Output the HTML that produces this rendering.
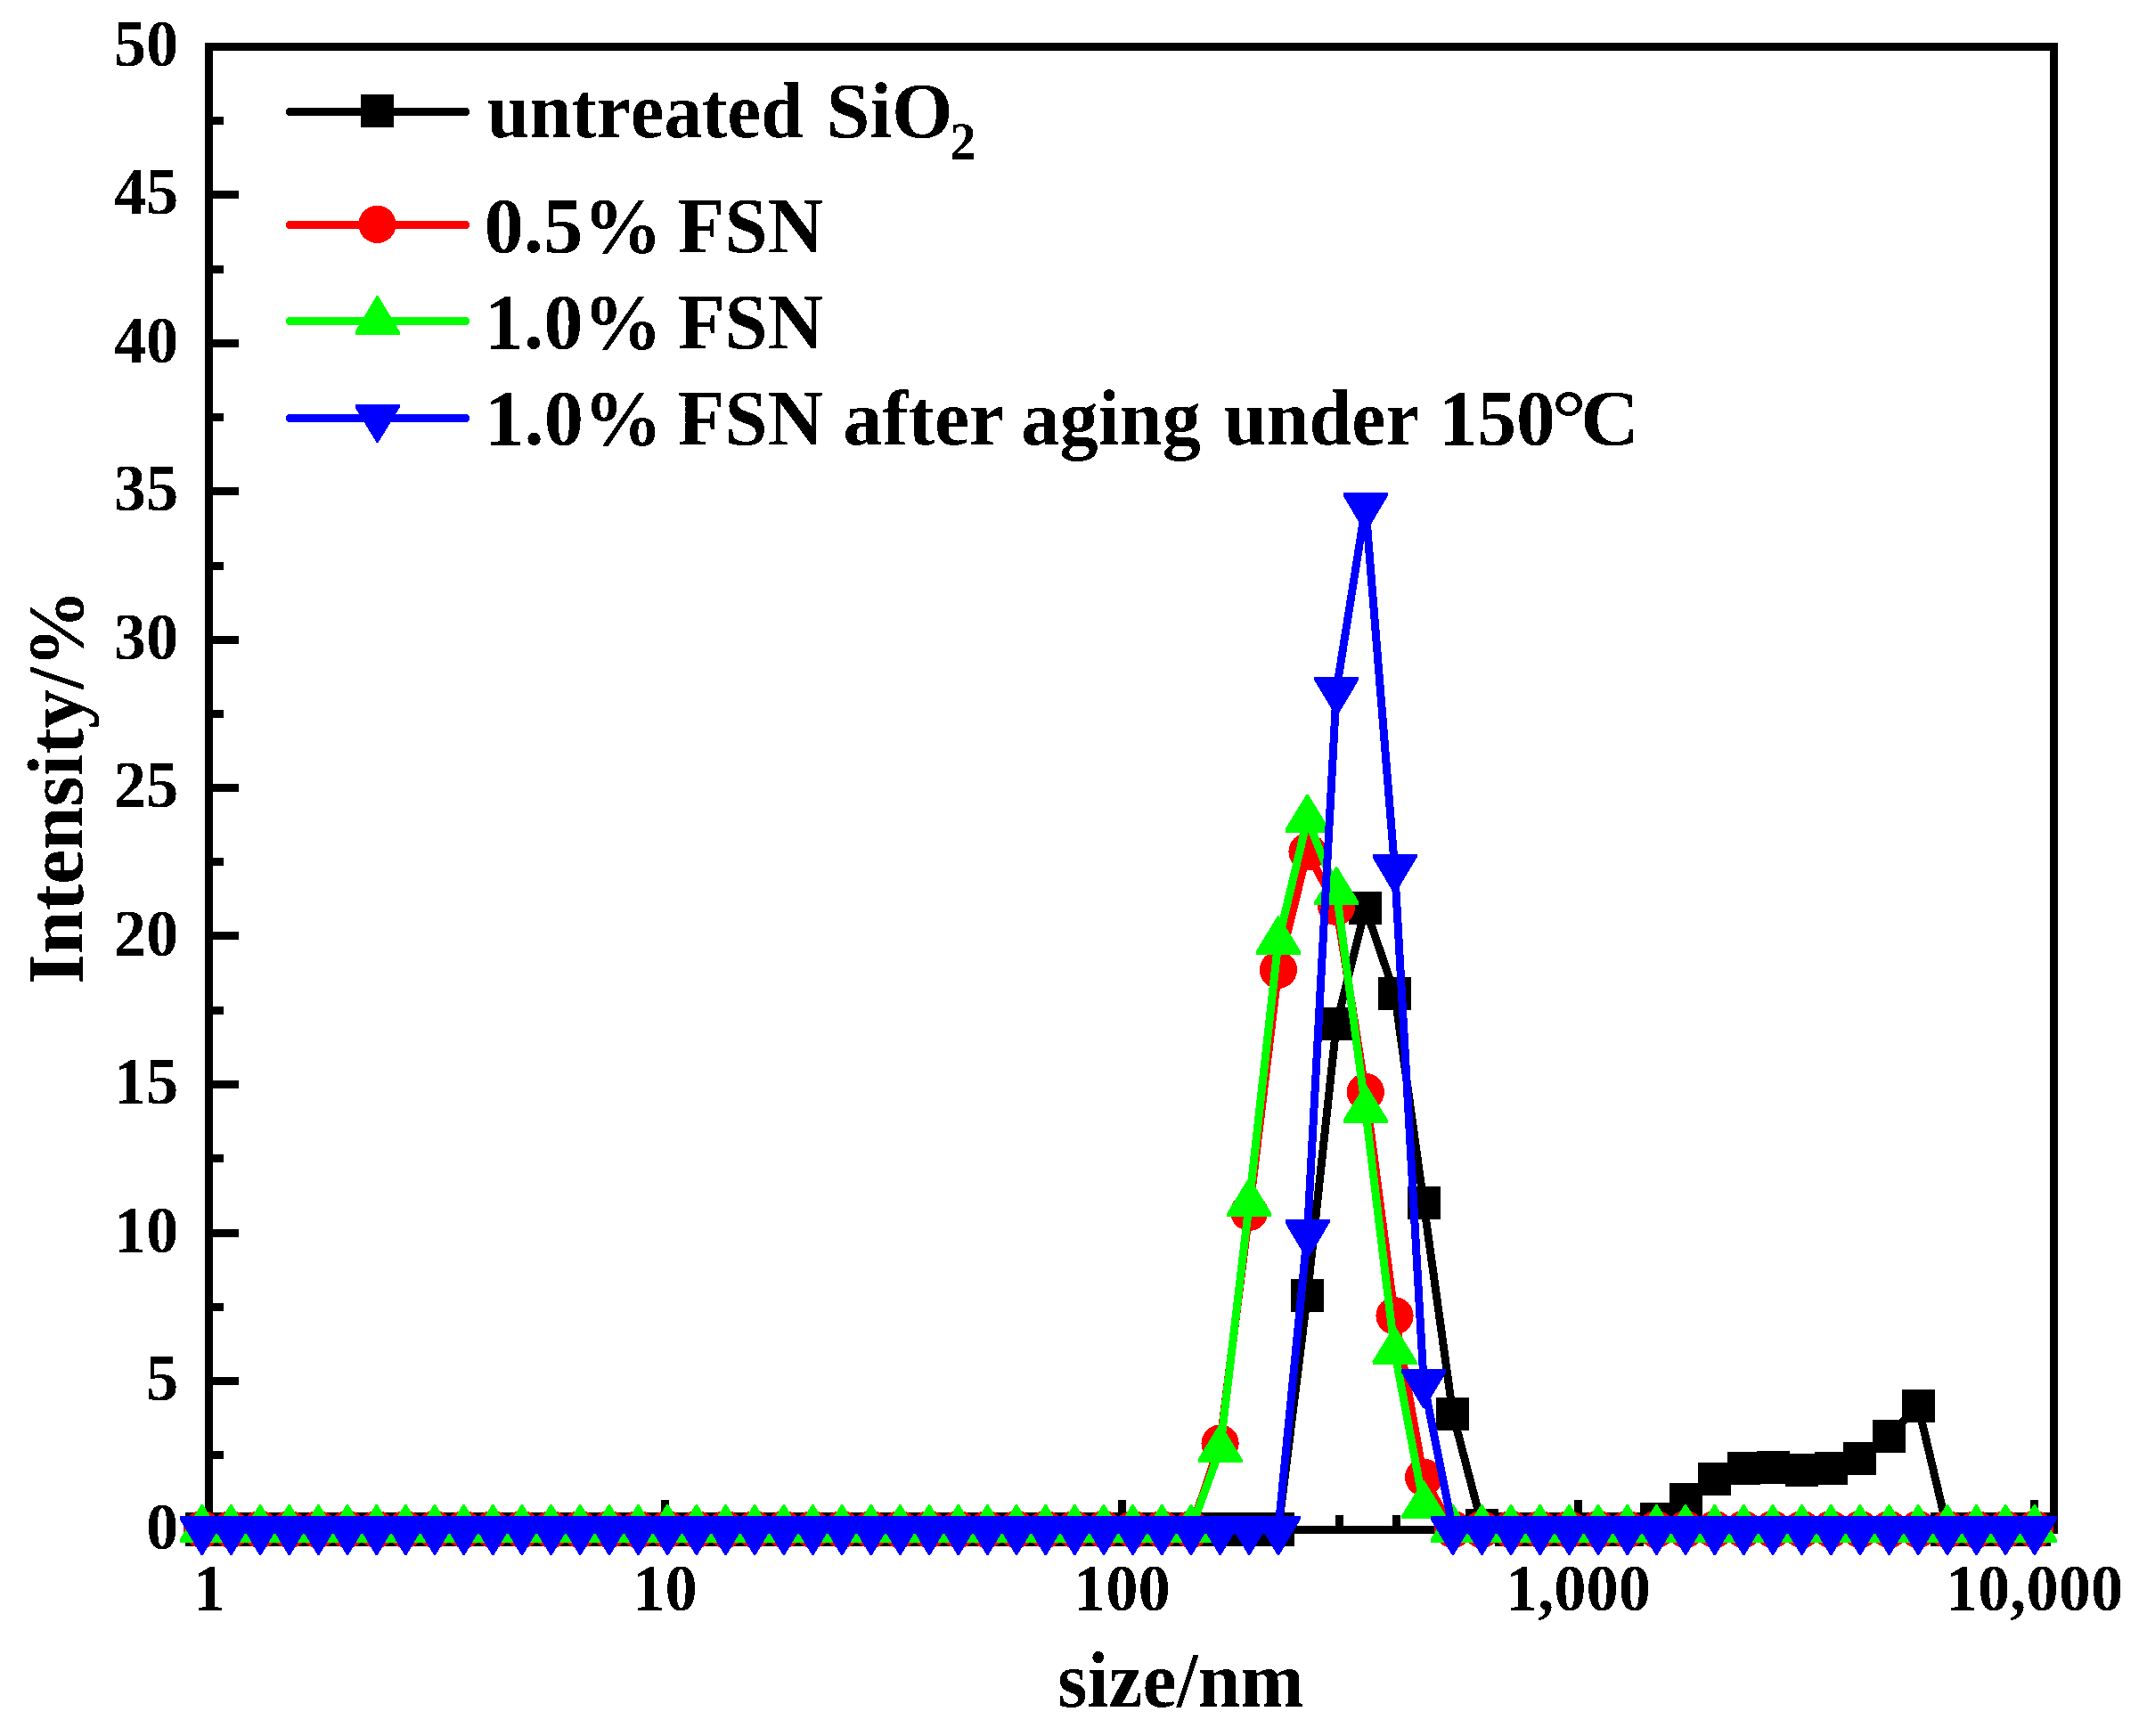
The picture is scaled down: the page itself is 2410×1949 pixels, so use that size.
<!DOCTYPE html>
<html lang="en"><head><meta charset="utf-8"><title>Particle size distribution</title>
<style>
html,body{margin:0;padding:0;background:#fff}
body{width:2410px;height:1949px;overflow:hidden}
svg{display:block}
text{font-family:"Liberation Serif",serif;font-weight:bold;fill:#000;font-kerning:none;white-space:pre}
</style></head><body>
<svg width="2410" height="1949" viewBox="0 0 2410 1949" shape-rendering="crispEdges">
<defs><filter id="al" x="0" y="0" width="2410" height="1949" filterUnits="userSpaceOnUse"><feComponentTransfer><feFuncA type="discrete" tableValues="0 1"/></feComponentTransfer></filter></defs>
<rect width="2410" height="1949" fill="#fff"/>
<g stroke="#000" stroke-width="9" fill="none">
<rect x="234.5" y="52.5" width="2071.0" height="1664.5"/>
<path d="M234.5 1550.5h33.5M234.5 1384.5h33.5M234.5 1217.5h33.5M234.5 1050.5h33.5M234.5 884.5h33.5M234.5 718.5h33.5M234.5 551.5h33.5M234.5 385.5h33.5M234.5 218.5h33.5M234.5 1633.5h16.5M234.5 1467.5h16.5M234.5 1300.5h16.5M234.5 1134.5h16.5M234.5 967.5h16.5M234.5 801.5h16.5M234.5 635.5h16.5M234.5 468.5h16.5M234.5 302.5h16.5M234.5 135.5h16.5M388.5 1717.0v-16.5M478.5 1717.0v-16.5M542.5 1717.0v-16.5M592.5 1717.0v-16.5M633.5 1717.0v-16.5M667.5 1717.0v-16.5M697.5 1717.0v-16.5M723.5 1717.0v-16.5M746.5 1717.0v-33.5M901.5 1717.0v-16.5M991.5 1717.0v-16.5M1055.5 1717.0v-16.5M1104.5 1717.0v-16.5M1145.5 1717.0v-16.5M1179.5 1717.0v-16.5M1209.5 1717.0v-16.5M1235.5 1717.0v-16.5M1259.5 1717.0v-33.5M1413.5 1717.0v-16.5M1503.5 1717.0v-16.5M1567.5 1717.0v-16.5M1617.5 1717.0v-16.5M1657.5 1717.0v-16.5M1692.5 1717.0v-16.5M1721.5 1717.0v-16.5M1747.5 1717.0v-16.5M1771.5 1717.0v-33.5M1925.5 1717.0v-16.5M2015.5 1717.0v-16.5M2079.5 1717.0v-16.5M2129.5 1717.0v-16.5M2170.5 1717.0v-16.5M2204.5 1717.0v-16.5M2234.5 1717.0v-16.5M2260.5 1717.0v-16.5M2283.5 1717.0v-33.5"/>
</g>
<g fill="#000" stroke="none">
<polyline fill="none" stroke="#000" stroke-width="9" stroke-linejoin="round" stroke-linecap="round" points="226.8,1717 259.4,1717 292.1,1717 324.7,1717 357.4,1717 390,1717 422.7,1717 455.3,1717 488,1717 520.6,1717 553.3,1717 585.9,1717 618.6,1717 651.2,1717 683.9,1717 716.5,1717 749.2,1717 781.8,1717 814.5,1717 847.1,1717 879.8,1717 912.4,1717 945.1,1717 977.7,1717 1010.4,1717 1043.1,1717 1075.7,1717 1108.4,1717 1141,1717 1173.7,1717 1206.3,1717 1239,1717 1271.6,1717 1304.3,1717 1336.9,1717 1369.6,1717 1402.2,1717 1434.9,1717 1467.5,1454 1500.2,1149.7 1532.8,1019.6 1565.5,1115.4 1598.1,1350.8 1630.8,1587.2 1663.4,1712 1696.1,1717 1728.7,1717 1761.4,1717 1794,1717 1826.7,1717 1859.4,1705.3 1892,1683.7 1924.7,1660.4 1957.3,1648.8 1990,1647.1 2022.6,1650.4 2055.3,1648.8 2087.9,1637.1 2120.6,1612.1 2153.2,1578.8 2185.9,1717 2218.5,1717 2251.2,1717 2283.8,1717"/>
<rect x="208.2" y="1698" width="37" height="38"/><rect x="240.9" y="1698" width="37" height="38"/><rect x="273.6" y="1698" width="37" height="38"/><rect x="306.2" y="1698" width="37" height="38"/><rect x="338.9" y="1698" width="37" height="38"/><rect x="371.5" y="1698" width="37" height="38"/><rect x="404.2" y="1698" width="37" height="38"/><rect x="436.8" y="1698" width="37" height="38"/><rect x="469.5" y="1698" width="37" height="38"/><rect x="502.1" y="1698" width="37" height="38"/><rect x="534.8" y="1698" width="37" height="38"/><rect x="567.4" y="1698" width="37" height="38"/><rect x="600.1" y="1698" width="37" height="38"/><rect x="632.7" y="1698" width="37" height="38"/><rect x="665.4" y="1698" width="37" height="38"/><rect x="698" y="1698" width="37" height="38"/><rect x="730.7" y="1698" width="37" height="38"/><rect x="763.3" y="1698" width="37" height="38"/><rect x="796" y="1698" width="37" height="38"/><rect x="828.6" y="1698" width="37" height="38"/><rect x="861.3" y="1698" width="37" height="38"/><rect x="893.9" y="1698" width="37" height="38"/><rect x="926.6" y="1698" width="37" height="38"/><rect x="959.2" y="1698" width="37" height="38"/><rect x="991.9" y="1698" width="37" height="38"/><rect x="1024.6" y="1698" width="37" height="38"/><rect x="1057.2" y="1698" width="37" height="38"/><rect x="1089.9" y="1698" width="37" height="38"/><rect x="1122.5" y="1698" width="37" height="38"/><rect x="1155.2" y="1698" width="37" height="38"/><rect x="1187.8" y="1698" width="37" height="38"/><rect x="1220.5" y="1698" width="37" height="38"/><rect x="1253.1" y="1698" width="37" height="38"/><rect x="1285.8" y="1698" width="37" height="38"/><rect x="1318.4" y="1698" width="37" height="38"/><rect x="1351.1" y="1698" width="37" height="38"/><rect x="1383.7" y="1698" width="37" height="38"/><rect x="1416.4" y="1698" width="37" height="38"/><rect x="1449" y="1435.5" width="37" height="37"/><rect x="1481.7" y="1131.2" width="37" height="37"/><rect x="1514.3" y="1001.1" width="37" height="37"/><rect x="1547" y="1096.9" width="37" height="37"/><rect x="1579.6" y="1332.3" width="37" height="37"/><rect x="1612.3" y="1568.7" width="37" height="37"/><rect x="1644.9" y="1693.5" width="37" height="37"/><rect x="1677.6" y="1698" width="37" height="38"/><rect x="1710.2" y="1698" width="37" height="38"/><rect x="1742.9" y="1698" width="37" height="38"/><rect x="1775.5" y="1698" width="37" height="38"/><rect x="1808.2" y="1698" width="37" height="38"/><rect x="1840.9" y="1686.8" width="37" height="37"/><rect x="1873.5" y="1665.2" width="37" height="37"/><rect x="1906.2" y="1641.9" width="37" height="37"/><rect x="1938.8" y="1630.3" width="37" height="37"/><rect x="1971.5" y="1628.6" width="37" height="37"/><rect x="2004.1" y="1631.9" width="37" height="37"/><rect x="2036.8" y="1630.3" width="37" height="37"/><rect x="2069.4" y="1618.6" width="37" height="37"/><rect x="2102.1" y="1593.6" width="37" height="37"/><rect x="2134.7" y="1560.3" width="37" height="37"/><rect x="2167.4" y="1698" width="37" height="38"/><rect x="2200" y="1698" width="37" height="38"/><rect x="2232.7" y="1698" width="37" height="38"/><rect x="2265.3" y="1698" width="37" height="38"/>
</g>
<g fill="#f00" stroke="none">
<polyline fill="none" stroke="#f00" stroke-width="9" stroke-linejoin="round" stroke-linecap="round" points="226.8,1717 259.4,1717 292.1,1717 324.7,1717 357.4,1717 390,1717 422.7,1717 455.3,1717 488,1717 520.6,1717 553.3,1717 585.9,1717 618.6,1717 651.2,1717 683.9,1717 716.5,1717 749.2,1717 781.8,1717 814.5,1717 847.1,1717 879.8,1717 912.4,1717 945.1,1717 977.7,1717 1010.4,1717 1043.1,1717 1075.7,1717 1108.4,1717 1141,1717 1173.7,1717 1206.3,1717 1239,1717 1271.6,1717 1304.3,1717 1336.9,1717 1369.6,1620.5 1402.2,1360.8 1434.9,1088.8 1467.5,956.3 1500.2,1017.9 1532.8,1226 1565.5,1477.3 1598.1,1658.7 1630.8,1717 1663.4,1717 1696.1,1717 1728.7,1717 1761.4,1717 1794,1717 1826.7,1717 1859.4,1717 1892,1717 1924.7,1717 1957.3,1717 1990,1717 2022.6,1717 2055.3,1717 2087.9,1717 2120.6,1717 2153.2,1717 2185.9,1717 2218.5,1717 2251.2,1717 2283.8,1717"/>
<circle cx="226.8" cy="1717" r="21.1"/><circle cx="259.4" cy="1717" r="21.1"/><circle cx="292.1" cy="1717" r="21.1"/><circle cx="324.7" cy="1717" r="21.1"/><circle cx="357.4" cy="1717" r="21.1"/><circle cx="390" cy="1717" r="21.1"/><circle cx="422.7" cy="1717" r="21.1"/><circle cx="455.3" cy="1717" r="21.1"/><circle cx="488" cy="1717" r="21.1"/><circle cx="520.6" cy="1717" r="21.1"/><circle cx="553.3" cy="1717" r="21.1"/><circle cx="585.9" cy="1717" r="21.1"/><circle cx="618.6" cy="1717" r="21.1"/><circle cx="651.2" cy="1717" r="21.1"/><circle cx="683.9" cy="1717" r="21.1"/><circle cx="716.5" cy="1717" r="21.1"/><circle cx="749.2" cy="1717" r="21.1"/><circle cx="781.8" cy="1717" r="21.1"/><circle cx="814.5" cy="1717" r="21.1"/><circle cx="847.1" cy="1717" r="21.1"/><circle cx="879.8" cy="1717" r="21.1"/><circle cx="912.4" cy="1717" r="21.1"/><circle cx="945.1" cy="1717" r="21.1"/><circle cx="977.7" cy="1717" r="21.1"/><circle cx="1010.4" cy="1717" r="21.1"/><circle cx="1043.1" cy="1717" r="21.1"/><circle cx="1075.7" cy="1717" r="21.1"/><circle cx="1108.4" cy="1717" r="21.1"/><circle cx="1141" cy="1717" r="21.1"/><circle cx="1173.7" cy="1717" r="21.1"/><circle cx="1206.3" cy="1717" r="21.1"/><circle cx="1239" cy="1717" r="21.1"/><circle cx="1271.6" cy="1717" r="21.1"/><circle cx="1304.3" cy="1717" r="21.1"/><circle cx="1336.9" cy="1717" r="21.1"/><circle cx="1369.6" cy="1620.5" r="21.1"/><circle cx="1402.2" cy="1360.8" r="21.1"/><circle cx="1434.9" cy="1088.8" r="21.1"/><circle cx="1467.5" cy="956.3" r="21.1"/><circle cx="1500.2" cy="1017.9" r="21.1"/><circle cx="1532.8" cy="1226" r="21.1"/><circle cx="1565.5" cy="1477.3" r="21.1"/><circle cx="1598.1" cy="1658.7" r="21.1"/><circle cx="1630.8" cy="1717" r="21.1"/><circle cx="1663.4" cy="1717" r="21.1"/><circle cx="1696.1" cy="1717" r="21.1"/><circle cx="1728.7" cy="1717" r="21.1"/><circle cx="1761.4" cy="1717" r="21.1"/><circle cx="1794" cy="1717" r="21.1"/><circle cx="1826.7" cy="1717" r="21.1"/><circle cx="1859.4" cy="1717" r="21.1"/><circle cx="1892" cy="1717" r="21.1"/><circle cx="1924.7" cy="1717" r="21.1"/><circle cx="1957.3" cy="1717" r="21.1"/><circle cx="1990" cy="1717" r="21.1"/><circle cx="2022.6" cy="1717" r="21.1"/><circle cx="2055.3" cy="1717" r="21.1"/><circle cx="2087.9" cy="1717" r="21.1"/><circle cx="2120.6" cy="1717" r="21.1"/><circle cx="2153.2" cy="1717" r="21.1"/><circle cx="2185.9" cy="1717" r="21.1"/><circle cx="2218.5" cy="1717" r="21.1"/><circle cx="2251.2" cy="1717" r="21.1"/><circle cx="2283.8" cy="1717" r="21.1"/>
</g>
<g fill="#0f0" stroke="none">
<polyline fill="none" stroke="#0f0" stroke-width="9" stroke-linejoin="round" stroke-linecap="round" points="226.8,1717 259.4,1717 292.1,1717 324.7,1717 357.4,1717 390,1717 422.7,1717 455.3,1717 488,1717 520.6,1717 553.3,1717 585.9,1717 618.6,1717 651.2,1717 683.9,1717 716.5,1717 749.2,1717 781.8,1717 814.5,1717 847.1,1717 879.8,1717 912.4,1717 945.1,1717 977.7,1717 1010.4,1717 1043.1,1717 1075.7,1717 1108.4,1717 1141,1717 1173.7,1717 1206.3,1717 1239,1717 1271.6,1717 1304.3,1717 1336.9,1717 1369.6,1627.1 1402.2,1350.8 1434.9,1056.5 1467.5,919.7 1500.2,1001.3 1532.8,1245.9 1565.5,1517.3 1598.1,1690.4 1630.8,1717 1663.4,1717 1696.1,1717 1728.7,1717 1761.4,1717 1794,1717 1826.7,1717 1859.4,1717 1892,1717 1924.7,1717 1957.3,1717 1990,1717 2022.6,1717 2055.3,1717 2087.9,1717 2120.6,1717 2153.2,1717 2185.9,1717 2218.5,1717 2251.2,1717 2283.8,1717"/>
<path d="M225.8 1688.9H227.7L251.8 1728.2V1732H201.8V1728.2Z"/><path d="M258.5 1688.9H260.3L284.4 1728.2V1732H234.4V1728.2Z"/><path d="M291.2 1688.9H293L317.1 1728.2V1732H267.1V1728.2Z"/><path d="M323.8 1688.9H325.6L349.7 1728.2V1732H299.7V1728.2Z"/><path d="M356.5 1688.9H358.3L382.4 1728.2V1732H332.4V1728.2Z"/><path d="M389.1 1688.9H390.9L415 1728.2V1732H365V1728.2Z"/><path d="M421.8 1688.9H423.6L447.7 1728.2V1732H397.7V1728.2Z"/><path d="M454.4 1688.9H456.2L480.3 1728.2V1732H430.3V1728.2Z"/><path d="M487.1 1688.9H488.9L513 1728.2V1732H463V1728.2Z"/><path d="M519.7 1688.9H521.5L545.6 1728.2V1732H495.6V1728.2Z"/><path d="M552.4 1688.9H554.2L578.3 1728.2V1732H528.3V1728.2Z"/><path d="M585 1688.9H586.8L610.9 1728.2V1732H560.9V1728.2Z"/><path d="M617.7 1688.9H619.5L643.6 1728.2V1732H593.6V1728.2Z"/><path d="M650.3 1688.9H652.1L676.2 1728.2V1732H626.2V1728.2Z"/><path d="M683 1688.9H684.8L708.9 1728.2V1732H658.9V1728.2Z"/><path d="M715.6 1688.9H717.4L741.5 1728.2V1732H691.5V1728.2Z"/><path d="M748.3 1688.9H750.1L774.2 1728.2V1732H724.2V1728.2Z"/><path d="M780.9 1688.9H782.7L806.8 1728.2V1732H756.8V1728.2Z"/><path d="M813.6 1688.9H815.4L839.5 1728.2V1732H789.5V1728.2Z"/><path d="M846.2 1688.9H848L872.1 1728.2V1732H822.1V1728.2Z"/><path d="M878.9 1688.9H880.7L904.8 1728.2V1732H854.8V1728.2Z"/><path d="M911.5 1688.9H913.3L937.4 1728.2V1732H887.4V1728.2Z"/><path d="M944.2 1688.9H946L970.1 1728.2V1732H920.1V1728.2Z"/><path d="M976.8 1688.9H978.6L1002.7 1728.2V1732H952.7V1728.2Z"/><path d="M1009.5 1688.9H1011.3L1035.4 1728.2V1732H985.4V1728.2Z"/><path d="M1042.2 1688.9H1044L1068.1 1728.2V1732H1018.1V1728.2Z"/><path d="M1074.8 1688.9H1076.6L1100.7 1728.2V1732H1050.7V1728.2Z"/><path d="M1107.5 1688.9H1109.3L1133.4 1728.2V1732H1083.4V1728.2Z"/><path d="M1140.1 1688.9H1141.9L1166 1728.2V1732H1116V1728.2Z"/><path d="M1172.8 1688.9H1174.6L1198.7 1728.2V1732H1148.7V1728.2Z"/><path d="M1205.4 1688.9H1207.2L1231.3 1728.2V1732H1181.3V1728.2Z"/><path d="M1238.1 1688.9H1239.9L1264 1728.2V1732H1214V1728.2Z"/><path d="M1270.7 1688.9H1272.5L1296.6 1728.2V1732H1246.6V1728.2Z"/><path d="M1303.4 1688.9H1305.2L1329.3 1728.2V1732H1279.3V1728.2Z"/><path d="M1336 1688.9H1337.8L1361.9 1728.2V1732H1311.9V1728.2Z"/><path d="M1368.7 1599H1370.5L1394.6 1638.4V1642.1H1344.6V1638.4Z"/><path d="M1401.3 1322.7H1403.1L1427.2 1362.1V1365.8H1377.2V1362.1Z"/><path d="M1434 1028.4H1435.8L1459.9 1067.8V1071.5H1409.9V1067.8Z"/><path d="M1466.6 891.6H1468.4L1492.5 931V934.7H1442.5V931Z"/><path d="M1499.3 973.2H1501.1L1525.2 1012.5V1016.2H1475.2V1012.5Z"/><path d="M1531.9 1217.8H1533.7L1557.8 1257.2V1260.9H1507.8V1257.2Z"/><path d="M1564.6 1489.2H1566.4L1590.5 1528.5V1532.2H1540.5V1528.5Z"/><path d="M1597.2 1662.3H1599L1623.1 1701.6V1705.3H1573.1V1701.6Z"/><path d="M1629.9 1688.9H1631.7L1655.8 1728.2V1732H1605.8V1728.2Z"/><path d="M1662.5 1688.9H1664.3L1688.4 1728.2V1732H1638.4V1728.2Z"/><path d="M1695.2 1688.9H1697L1721.1 1728.2V1732H1671.1V1728.2Z"/><path d="M1727.8 1688.9H1729.6L1753.7 1728.2V1732H1703.7V1728.2Z"/><path d="M1760.5 1688.9H1762.3L1786.4 1728.2V1732H1736.4V1728.2Z"/><path d="M1793.1 1688.9H1794.9L1819 1728.2V1732H1769V1728.2Z"/><path d="M1825.8 1688.9H1827.6L1851.7 1728.2V1732H1801.7V1728.2Z"/><path d="M1858.5 1688.9H1860.3L1884.4 1728.2V1732H1834.4V1728.2Z"/><path d="M1891.1 1688.9H1892.9L1917 1728.2V1732H1867V1728.2Z"/><path d="M1923.8 1688.9H1925.6L1949.7 1728.2V1732H1899.7V1728.2Z"/><path d="M1956.4 1688.9H1958.2L1982.3 1728.2V1732H1932.3V1728.2Z"/><path d="M1989.1 1688.9H1990.9L2015 1728.2V1732H1965V1728.2Z"/><path d="M2021.7 1688.9H2023.5L2047.6 1728.2V1732H1997.6V1728.2Z"/><path d="M2054.4 1688.9H2056.2L2080.3 1728.2V1732H2030.3V1728.2Z"/><path d="M2087 1688.9H2088.8L2112.9 1728.2V1732H2062.9V1728.2Z"/><path d="M2119.7 1688.9H2121.5L2145.6 1728.2V1732H2095.6V1728.2Z"/><path d="M2152.3 1688.9H2154.1L2178.2 1728.2V1732H2128.2V1728.2Z"/><path d="M2185 1688.9H2186.8L2210.9 1728.2V1732H2160.9V1728.2Z"/><path d="M2217.6 1688.9H2219.4L2243.5 1728.2V1732H2193.5V1728.2Z"/><path d="M2250.3 1688.9H2252.1L2276.2 1728.2V1732H2226.2V1728.2Z"/><path d="M2282.9 1688.9H2284.7L2308.8 1728.2V1732H2258.8V1728.2Z"/>
</g>
<g fill="#00f" stroke="none">
<polyline fill="none" stroke="#00f" stroke-width="9" stroke-linejoin="round" stroke-linecap="round" points="226.8,1717 259.4,1717 292.1,1717 324.7,1717 357.4,1717 390,1717 422.7,1717 455.3,1717 488,1717 520.6,1717 553.3,1717 585.9,1717 618.6,1717 651.2,1717 683.9,1717 716.5,1717 749.2,1717 781.8,1717 814.5,1717 847.1,1717 879.8,1717 912.4,1717 945.1,1717 977.7,1717 1010.4,1717 1043.1,1717 1075.7,1717 1108.4,1717 1141,1717 1173.7,1717 1206.3,1717 1239,1717 1271.6,1717 1304.3,1717 1336.9,1717 1369.6,1717 1402.2,1717 1434.9,1717 1467.5,1384.1 1500.2,774.6 1532.8,568.2 1565.5,974 1598.1,1552.2 1630.8,1717 1663.4,1717 1696.1,1717 1728.7,1717 1761.4,1717 1794,1717 1826.7,1717 1859.4,1717 1892,1717 1924.7,1717 1957.3,1717 1990,1717 2022.6,1717 2055.3,1717 2087.9,1717 2120.6,1717 2153.2,1717 2185.9,1717 2218.5,1717 2251.2,1717 2283.8,1717"/>
<path d="M225.8 1746.1H227.7L251.8 1705.7V1702H201.8V1705.7Z"/><path d="M258.5 1746.1H260.3L284.4 1705.7V1702H234.4V1705.7Z"/><path d="M291.2 1746.1H293L317.1 1705.7V1702H267.1V1705.7Z"/><path d="M323.8 1746.1H325.6L349.7 1705.7V1702H299.7V1705.7Z"/><path d="M356.5 1746.1H358.3L382.4 1705.7V1702H332.4V1705.7Z"/><path d="M389.1 1746.1H390.9L415 1705.7V1702H365V1705.7Z"/><path d="M421.8 1746.1H423.6L447.7 1705.7V1702H397.7V1705.7Z"/><path d="M454.4 1746.1H456.2L480.3 1705.7V1702H430.3V1705.7Z"/><path d="M487.1 1746.1H488.9L513 1705.7V1702H463V1705.7Z"/><path d="M519.7 1746.1H521.5L545.6 1705.7V1702H495.6V1705.7Z"/><path d="M552.4 1746.1H554.2L578.3 1705.7V1702H528.3V1705.7Z"/><path d="M585 1746.1H586.8L610.9 1705.7V1702H560.9V1705.7Z"/><path d="M617.7 1746.1H619.5L643.6 1705.7V1702H593.6V1705.7Z"/><path d="M650.3 1746.1H652.1L676.2 1705.7V1702H626.2V1705.7Z"/><path d="M683 1746.1H684.8L708.9 1705.7V1702H658.9V1705.7Z"/><path d="M715.6 1746.1H717.4L741.5 1705.7V1702H691.5V1705.7Z"/><path d="M748.3 1746.1H750.1L774.2 1705.7V1702H724.2V1705.7Z"/><path d="M780.9 1746.1H782.7L806.8 1705.7V1702H756.8V1705.7Z"/><path d="M813.6 1746.1H815.4L839.5 1705.7V1702H789.5V1705.7Z"/><path d="M846.2 1746.1H848L872.1 1705.7V1702H822.1V1705.7Z"/><path d="M878.9 1746.1H880.7L904.8 1705.7V1702H854.8V1705.7Z"/><path d="M911.5 1746.1H913.3L937.4 1705.7V1702H887.4V1705.7Z"/><path d="M944.2 1746.1H946L970.1 1705.7V1702H920.1V1705.7Z"/><path d="M976.8 1746.1H978.6L1002.7 1705.7V1702H952.7V1705.7Z"/><path d="M1009.5 1746.1H1011.3L1035.4 1705.7V1702H985.4V1705.7Z"/><path d="M1042.2 1746.1H1044L1068.1 1705.7V1702H1018.1V1705.7Z"/><path d="M1074.8 1746.1H1076.6L1100.7 1705.7V1702H1050.7V1705.7Z"/><path d="M1107.5 1746.1H1109.3L1133.4 1705.7V1702H1083.4V1705.7Z"/><path d="M1140.1 1746.1H1141.9L1166 1705.7V1702H1116V1705.7Z"/><path d="M1172.8 1746.1H1174.6L1198.7 1705.7V1702H1148.7V1705.7Z"/><path d="M1205.4 1746.1H1207.2L1231.3 1705.7V1702H1181.3V1705.7Z"/><path d="M1238.1 1746.1H1239.9L1264 1705.7V1702H1214V1705.7Z"/><path d="M1270.7 1746.1H1272.5L1296.6 1705.7V1702H1246.6V1705.7Z"/><path d="M1303.4 1746.1H1305.2L1329.3 1705.7V1702H1279.3V1705.7Z"/><path d="M1336 1746.1H1337.8L1361.9 1705.7V1702H1311.9V1705.7Z"/><path d="M1368.7 1746.1H1370.5L1394.6 1705.7V1702H1344.6V1705.7Z"/><path d="M1401.3 1746.1H1403.1L1427.2 1705.7V1702H1377.2V1705.7Z"/><path d="M1434 1746.1H1435.8L1459.9 1705.7V1702H1409.9V1705.7Z"/><path d="M1466.6 1413.2H1468.4L1492.5 1372.8V1369.1H1442.5V1372.8Z"/><path d="M1499.3 803.7H1501.1L1525.2 763.3V759.6H1475.2V763.3Z"/><path d="M1531.9 597.3H1533.7L1557.8 556.9V553.2H1507.8V556.9Z"/><path d="M1564.6 1003.1H1566.4L1590.5 962.7V959H1540.5V962.7Z"/><path d="M1597.2 1581.3H1599L1623.1 1540.9V1537.2H1573.1V1540.9Z"/><path d="M1629.9 1746.1H1631.7L1655.8 1705.7V1702H1605.8V1705.7Z"/><path d="M1662.5 1746.1H1664.3L1688.4 1705.7V1702H1638.4V1705.7Z"/><path d="M1695.2 1746.1H1697L1721.1 1705.7V1702H1671.1V1705.7Z"/><path d="M1727.8 1746.1H1729.6L1753.7 1705.7V1702H1703.7V1705.7Z"/><path d="M1760.5 1746.1H1762.3L1786.4 1705.7V1702H1736.4V1705.7Z"/><path d="M1793.1 1746.1H1794.9L1819 1705.7V1702H1769V1705.7Z"/><path d="M1825.8 1746.1H1827.6L1851.7 1705.7V1702H1801.7V1705.7Z"/><path d="M1858.5 1746.1H1860.3L1884.4 1705.7V1702H1834.4V1705.7Z"/><path d="M1891.1 1746.1H1892.9L1917 1705.7V1702H1867V1705.7Z"/><path d="M1923.8 1746.1H1925.6L1949.7 1705.7V1702H1899.7V1705.7Z"/><path d="M1956.4 1746.1H1958.2L1982.3 1705.7V1702H1932.3V1705.7Z"/><path d="M1989.1 1746.1H1990.9L2015 1705.7V1702H1965V1705.7Z"/><path d="M2021.7 1746.1H2023.5L2047.6 1705.7V1702H1997.6V1705.7Z"/><path d="M2054.4 1746.1H2056.2L2080.3 1705.7V1702H2030.3V1705.7Z"/><path d="M2087 1746.1H2088.8L2112.9 1705.7V1702H2062.9V1705.7Z"/><path d="M2119.7 1746.1H2121.5L2145.6 1705.7V1702H2095.6V1705.7Z"/><path d="M2152.3 1746.1H2154.1L2178.2 1705.7V1702H2128.2V1705.7Z"/><path d="M2185 1746.1H2186.8L2210.9 1705.7V1702H2160.9V1705.7Z"/><path d="M2217.6 1746.1H2219.4L2243.5 1705.7V1702H2193.5V1705.7Z"/><path d="M2250.3 1746.1H2252.1L2276.2 1705.7V1702H2226.2V1705.7Z"/><path d="M2282.9 1746.1H2284.7L2308.8 1705.7V1702H2258.8V1705.7Z"/>
</g>
<g filter="url(#al)">
<text font-size="72.5" transform="matrix(1 0 0 1.035 164.01 1738.6)">0</text><text font-size="72.5" transform="matrix(1 0 0 1.035 163.91 1572.1)">5</text><text font-size="72.5" transform="matrix(1 0 0 1.035 127.76 1405.6)">10</text><text font-size="72.5" transform="matrix(1 0 0 1.035 127.66 1239.1)">15</text><text font-size="72.5" transform="matrix(1 0 0 1.035 127.76 1072.6)">20</text><text font-size="72.5" transform="matrix(1 0 0 1.035 127.66 906.1)">25</text><text font-size="72.5" transform="matrix(1 0 0 1.035 127.76 739.6)">30</text><text font-size="72.5" transform="matrix(1 0 0 1.035 127.66 573.1)">35</text><text font-size="72.5" transform="matrix(1 0 0 1.035 127.76 406.6)">40</text><text font-size="72.5" transform="matrix(1 0 0 1.035 127.66 240.1)">45</text><text font-size="72.5" transform="matrix(1 0 0 1.035 127.76 73.6)">50</text>
<text font-size="72.5" transform="matrix(1 0 0 1.035 216.85 1808)">1</text><text font-size="72.5" transform="matrix(1 0 0 1.035 710.23 1808)">10</text><text font-size="72.5" transform="matrix(1 0 0 1.035 1205.1 1808)">100</text><text font-size="72.5" transform="matrix(1 0 0 1.035 1689.92 1808)">1,000</text><text font-size="72.5" transform="matrix(1 0 0 1.035 2183.79 1808)">10,000</text>
<text font-size="87" transform="matrix(0.9882 0 0 1.01 1187 1916.1)">size/nm</text>
<text font-size="87" transform="translate(92.2 1105.26) rotate(-90) scale(1.0084 1.01)">Intensity/%</text>
<g fill="#000"><path d="M325.3 125.4H522.7" stroke="#000" stroke-width="9" stroke-linecap="round" fill="none"/><rect x="405" y="106" width="37" height="37"/></g>
<g fill="#f00"><path d="M325.3 252.4H522.7" stroke="#f00" stroke-width="9" stroke-linecap="round" fill="none"/><circle cx="423.5" cy="251.9" r="21.1"/></g>
<g fill="#0f0"><path d="M325.3 360.5H522.7" stroke="#0f0" stroke-width="9" stroke-linecap="round" fill="none"/><path d="M422.7 331.9H424.5L448.6 372.2V375.9H398.6V372.2Z"/></g>
<g fill="#00f"><path d="M325.3 469.5H522.7" stroke="#00f" stroke-width="9" stroke-linecap="round" fill="none"/><path d="M422.7 496.9H424.5L448.6 457.7V454H398.6V457.7Z"/></g>
<text font-size="87" transform="matrix(0.996 0 0 1.012 0 154.3)"><tspan x="548.98" textLength="356.15" lengthAdjust="spacingAndGlyphs">untreated</tspan> <tspan x="931.29" textLength="142.66" lengthAdjust="spacingAndGlyphs">SiO</tspan><tspan x="1070.48" font-size="60" dy="24.01" textLength="29.39" lengthAdjust="spacingAndGlyphs">2</tspan></text>
<text font-size="87" transform="matrix(1.0084 0 0 1.012 0 282.9)"><tspan x="538.89" textLength="198.25" lengthAdjust="spacingAndGlyphs">0.5%</tspan> <tspan x="754.28" textLength="162.26" lengthAdjust="spacingAndGlyphs">FSN</tspan></text>
<text font-size="87" transform="matrix(1.0077 0 0 1.012 0 391.3)"><tspan x="539.57" textLength="198.11" lengthAdjust="spacingAndGlyphs">1.0%</tspan> <tspan x="754.84" textLength="162.38" lengthAdjust="spacingAndGlyphs">FSN</tspan></text>
<text font-size="87" transform="matrix(1.0239 0 0 1.012 0 499.2)"><tspan x="531.6" textLength="194.65" lengthAdjust="spacingAndGlyphs">1.0%</tspan> <tspan x="742.96" textLength="159.7" lengthAdjust="spacingAndGlyphs">FSN</tspan> <tspan x="924.27" textLength="176.51" lengthAdjust="spacingAndGlyphs">after</tspan> <tspan x="1119.56" textLength="196.82" lengthAdjust="spacingAndGlyphs">aging</tspan> <tspan x="1342.03" textLength="214.22" lengthAdjust="spacingAndGlyphs">under</tspan> <tspan x="1576.8" textLength="128.39" lengthAdjust="spacingAndGlyphs">150</tspan><tspan x="1700.85" textLength="38.38" lengthAdjust="spacingAndGlyphs">°</tspan><tspan x="1732.53" textLength="64.49" lengthAdjust="spacingAndGlyphs">C</tspan></text>
</g>
</svg>
</body></html>
